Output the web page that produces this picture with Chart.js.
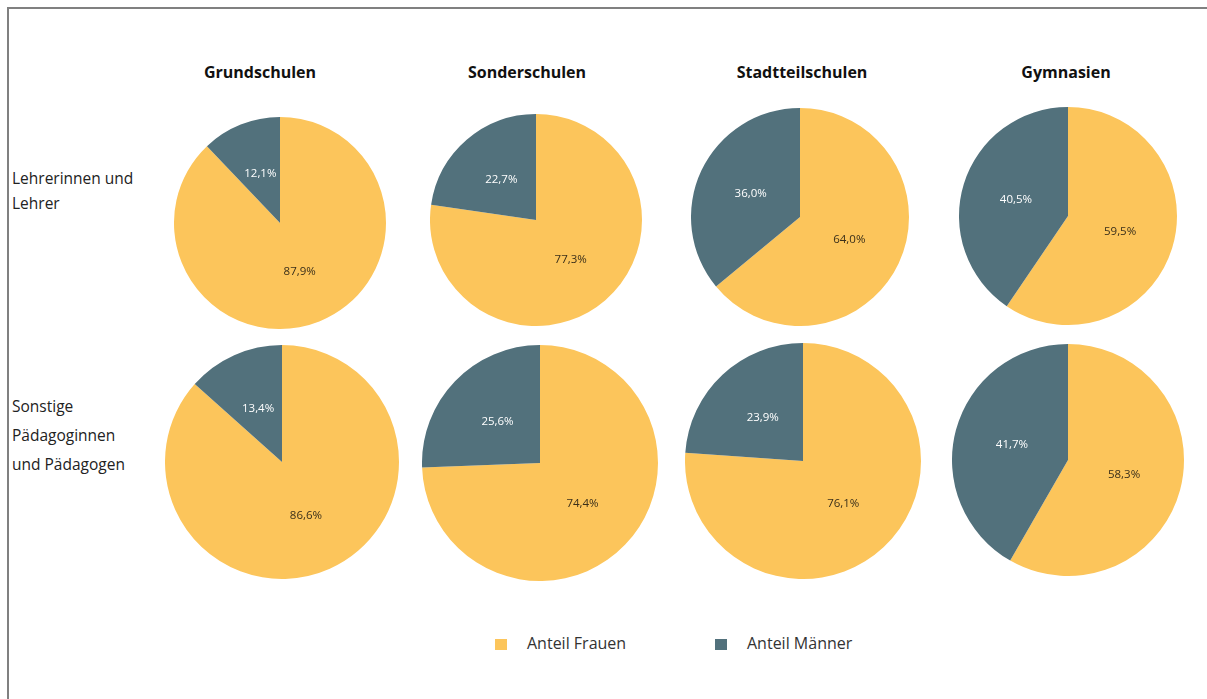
<!DOCTYPE html>
<html>
<head>
<meta charset="utf-8">
<script src="https://cdn.jsdelivr.net/npm/chart.js@4"></script>
<style>
  body { margin: 0; background: #fff; font-family: "Open Sans", sans-serif; }
  #page { position: relative; width: 1207px; height: 699px; overflow: hidden; }
  #frame { position: absolute; left: 7px; top: 7px; right: -4px; bottom: -4px;
           border-top: 2px solid #808080; border-left: 2px solid #808080; }
  .title { position: absolute; font-weight: bold; font-size: 16px; color: #111;
           transform: translateX(-50%); white-space: nowrap; }
  .rowlabel { position: absolute; left: 12px; font-size: 15.5px; color: #222; }
  .pie { position: absolute; }
  .legend { position: absolute; top: 632px; font-size: 16px; color: #333; white-space: nowrap; }
  .legend span.box { display: inline-block; width: 12px; height: 11px; margin-right: 20px; vertical-align: -1px; }
</style>
</head>
<body>
<div id="page">
  <div id="frame"></div>
</div>
<script>
// --- data
var schools = ['Grundschulen', 'Sonderschulen', 'Stadtteilschulen', 'Gymnasien'];
var groups = [['Lehrerinnen und', 'Lehrer'], ['Sonstige', 'Pädagoginnen', 'und Pädagogen']];
var seriesNames = ['Anteil Frauen', 'Anteil Männer'];
var frauenLehrer = [87.9, 77.3, 64.0, 59.5];
var maennerLehrer = [12.1, 22.7, 36.0, 40.5];
var frauenSonstige = [86.6, 74.4, 76.1, 58.3];
var maennerSonstige = [13.4, 25.6, 23.9, 41.7];

var colors = ['#FCC55B', '#52717C'];
var labelColors = ['#3a2f1a', '#ffffff'];

// --- layout (center x, center y, radius) per pie
var layout = [
    [[280, 223, 106], [536, 220, 106], [800, 217, 109], [1068, 216, 109]],
    [[282, 462, 117], [540, 463, 118], [803, 461, 118], [1068, 460, 116]]
];
var titleX = [260, 527, 802, 1066];
var rowLabelTop = [166, 392];
var rowLineHeight = [25, 29];

var page = document.getElementById('page');

// titles
schools.forEach(function (s, i) {
    var d = document.createElement('div');
    d.className = 'title';
    d.style.left = titleX[i] + 'px';
    d.style.top = '61px';
    d.textContent = s;
    page.appendChild(d);
});

// row labels
groups.forEach(function (lines, r) {
    var d = document.createElement('div');
    d.className = 'rowlabel';
    d.style.top = rowLabelTop[r] + 'px';
    d.style.lineHeight = rowLineHeight[r] + 'px';
    d.innerHTML = lines.join('<br>');
    page.appendChild(d);
});

// labels inside slices
var sliceLabels = {
    id: 'sliceLabels',
    afterDatasetsDraw: function (chart) {
        var ctx = chart.ctx;
        var meta = chart.getDatasetMeta(0);
        var values = chart.data.datasets[0].data;
        ctx.save();
        ctx.font = '11.5px "Open Sans", sans-serif';
        ctx.textAlign = 'center';
        ctx.textBaseline = 'middle';
        meta.data.forEach(function (arc, i) {
            var p = arc.getCenterPoint();
            ctx.fillStyle = labelColors[i];
            ctx.fillText(values[i].toFixed(1).replace('.', ',') + '%', p.x, p.y);
        });
        ctx.restore();
    }
};

var rows = [[frauenLehrer, maennerLehrer], [frauenSonstige, maennerSonstige]];
rows.forEach(function (row, r) {
    schools.forEach(function (s, c) {
        var L = layout[r][c];
        var size = L[2] * 2;
        var cv = document.createElement('canvas');
        cv.className = 'pie';
        cv.width = size;
        cv.height = size;
        cv.style.left = (L[0] - L[2]) + 'px';
        cv.style.top = (L[1] - L[2]) + 'px';
        page.appendChild(cv);
        new Chart(cv, {
            type: 'pie',
            data: {
                labels: seriesNames,
                datasets: [{
                    data: [row[0][c], row[1][c]],
                    backgroundColor: colors,
                    borderWidth: 0
                }]
            },
            options: {
                responsive: false,
                animation: false,
                layout: { padding: 0 },
                plugins: { legend: { display: false }, tooltip: { enabled: false } }
            },
            plugins: [sliceLabels]
        });
    });
});

// legend
var legendX = [495, 715];
seriesNames.forEach(function (n, i) {
    var d = document.createElement('div');
    d.className = 'legend';
    d.style.left = legendX[i] + 'px';
    d.innerHTML = '<span class="box" style="background:' + colors[i] + '"></span>' + n;
    page.appendChild(d);
});
</script>
</body>
</html>
